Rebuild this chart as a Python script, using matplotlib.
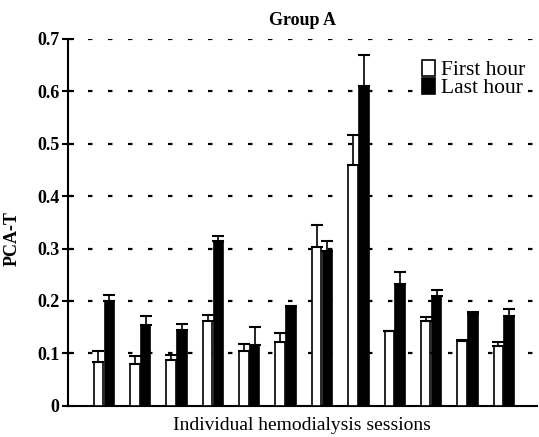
import matplotlib
matplotlib.use("Agg")
import matplotlib.pyplot as plt
import numpy as np
from matplotlib.patches import Patch

sessions = list(range(1, 13))
first_hour = [0.084, 0.080, 0.087, 0.161, 0.105, 0.122, 0.303, 0.460, 0.142, 0.161, 0.124, 0.114]
first_err = [0.021, 0.014, 0.010, 0.013, 0.012, 0.016, 0.042, 0.056, 0.001, 0.009, 0.002, 0.008]
last_hour = [0.200, 0.154, 0.144, 0.314, 0.115, 0.189, 0.296, 0.611, 0.232, 0.210, 0.176, 0.172]
last_err = [0.012, 0.018, 0.012, 0.010, 0.035, 0.001, 0.019, 0.058, 0.023, 0.011, 0.002, 0.012]
yticks = [0, 0.1, 0.2, 0.3, 0.4, 0.5, 0.6, 0.7]
ytick_labels = ["0", "0.1", "0.2", "0.3", "0.4", "0.5", "0.6", "0.7"]

plt.rcParams['font.family'] = ['Liberation Serif', 'DejaVu Serif']

fig = plt.figure(figsize=(5.39, 4.37), dpi=100)
ax = fig.add_axes([0.126, 0.0716, 0.870, 0.8392])

x = np.arange(len(sessions))
w = 0.26
off = 0.15
ax.bar(x - off, first_hour, w, color='white', edgecolor='black', linewidth=1.2, zorder=3)
ax.bar(x + off, last_hour, w, color='black', edgecolor='black', linewidth=1.2, zorder=3)
ax.errorbar(x - off, first_hour, yerr=[np.zeros(len(x)), first_err], fmt='none',
            ecolor='black', elinewidth=1.2, capsize=4, capthick=1.5, zorder=4)
ax.errorbar(x + off, last_hour, yerr=[np.zeros(len(x)), last_err], fmt='none',
            ecolor='black', elinewidth=1.2, capsize=4, capthick=1.5, zorder=4)

ax.set_xlim(-0.99, 11.91)
ax.set_ylim(0, 0.7)
ax.set_yticks(yticks)
ax.set_yticklabels(ytick_labels, fontsize=13, fontweight='bold')
ax.set_xticks([])
for yv in yticks[1:]:
    ax.axhline(yv, color='black', linewidth=1.6, linestyle=(0, (2, 7.0)), zorder=1)

ax.spines['top'].set_visible(False)
ax.spines['right'].set_visible(False)
ax.spines['left'].set_linewidth(1.5)
ax.spines['bottom'].set_linewidth(1.5)
ax.tick_params(axis='y', direction='inout', length=8, width=1.5, pad=2)

ax.set_ylabel("PCA-T", fontsize=13, fontweight='bold')
ax.yaxis.set_label_coords(-0.10, 0.457)
ax.set_xlabel("Individual hemodialysis sessions", fontsize=14, labelpad=8)
ax.set_title("Group A", fontsize=13, fontweight='bold', pad=10)

handles = [Patch(facecolor='white', edgecolor='black', linewidth=1.2, label='First hour'),
           Patch(facecolor='black', edgecolor='black', linewidth=1.2, label='Last hour')]
leg = ax.legend(handles=handles, loc='upper right', bbox_to_anchor=(0.985, 0.955), frameon=True,
                fancybox=False, edgecolor='none', facecolor='white', framealpha=1.0,
                fontsize=15.5, handlelength=0.6, handleheight=0.75, handletextpad=0.3,
                labelspacing=-0.1, borderaxespad=0.15, borderpad=0.05)
leg.set_zorder(5)

fig.savefig("out.png", dpi=100)
